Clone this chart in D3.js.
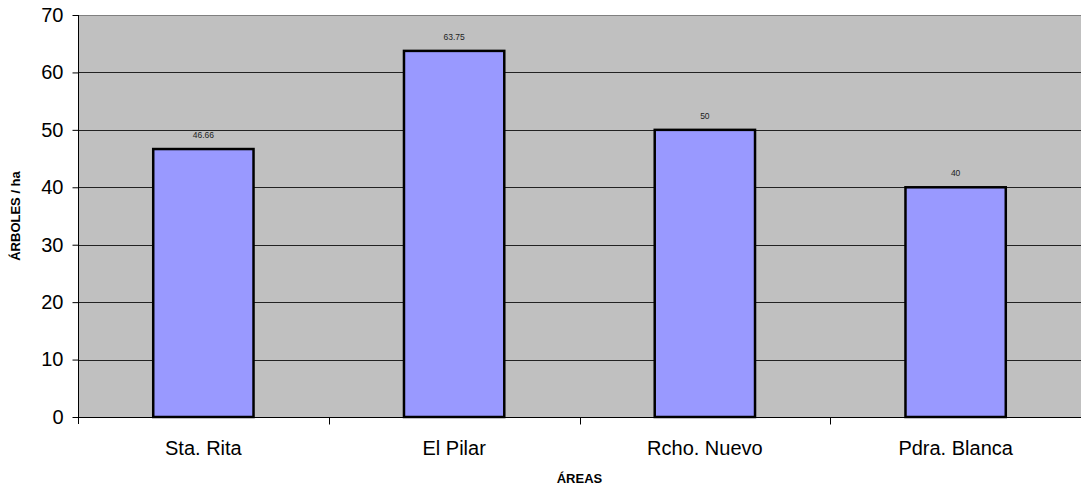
<!DOCTYPE html>
<html>
<head>
<meta charset="utf-8">
<script src="https://cdn.jsdelivr.net/npm/d3@7/dist/d3.min.js"></script>
<style>
  html, body { margin: 0; padding: 0; background: #fff; }
  svg { display: block; font-family: Arial, "Liberation Sans", sans-serif; }
</style>
</head>
<body>
<svg id="chart" width="1081" height="487"></svg>
<script>
// Tree density per area
const categories = ["Sta. Rita", "El Pilar", "Rcho. Nuevo", "Pdra. Blanca"];
const values = [46.66, 63.75, 50, 40];
const valueLabels = ["46.66", "63.75", "50", "40"];
const yTicks = [0, 10, 20, 30, 40, 50, 60, 70];

const svg = d3.select("#chart");
const plot = { left: 78, right: 1081, top: 15, bottom: 417 };

const x = d3.scaleBand()
  .domain(categories)
  .range([plot.left, plot.right])
  .paddingInner(0.6)
  .paddingOuter(0.3);

const y = d3.scaleLinear()
  .domain([0, 70])
  .range([plot.bottom, plot.top]);

// plot background
svg.append("rect")
  .attr("x", plot.left).attr("y", plot.top)
  .attr("width", plot.right - plot.left)
  .attr("height", plot.bottom - plot.top)
  .attr("fill", "#c0c0c0");

// horizontal gridlines
svg.append("g")
  .selectAll("line")
  .data(yTicks.filter(d => d > 0))
  .join("line")
  .attr("x1", plot.left).attr("x2", plot.right)
  .attr("y1", d => Math.round(y(d)) + 0.5)
  .attr("y2", d => Math.round(y(d)) + 0.5)
  .attr("stroke", d => d === 70 ? "#808080" : "#222")
  .attr("stroke-width", 1);

// bars
svg.append("g")
  .selectAll("rect")
  .data(values)
  .join("rect")
  .attr("x", (d, i) => x(categories[i]))
  .attr("y", d => y(d))
  .attr("width", x.bandwidth())
  .attr("height", d => y(0) - y(d))
  .attr("fill", "#9999ff")
  .attr("stroke", "#000")
  .attr("stroke-width", 2.5);

// value labels
svg.append("g")
  .selectAll("text")
  .data(values)
  .join("text")
  .attr("x", (d, i) => x(categories[i]) + x.bandwidth() / 2)
  .attr("y", d => y(d) - 11)
  .attr("text-anchor", "middle")
  .attr("font-size", 8.5)
  .attr("fill", "#222")
  .text((d, i) => valueLabels[i]);

// y axis
const yAxis = d3.axisLeft(y)
  .tickValues(yTicks)
  .tickSize(6)
  .tickPadding(9)
  .tickFormat(d3.format("d"));

const gy = svg.append("g")
  .attr("transform", `translate(${plot.left + 0.5},0)`)
  .call(yAxis);
gy.select(".domain").attr("stroke", "#000").attr("d", `M0,${plot.top}V${plot.bottom + 7}`);
gy.selectAll(".tick line").attr("stroke", "#000");
gy.selectAll(".tick text")
  .attr("font-size", 20)
  .attr("font-family", "Arial, 'Liberation Sans', sans-serif")
  .attr("fill", "#000");

// x axis
const xAxis = d3.axisBottom(x).tickSize(0).tickPadding(0);
const gx = svg.append("g")
  .attr("transform", `translate(0,${plot.bottom + 0.5})`)
  .call(xAxis);
gx.select(".domain").attr("stroke", "#000").attr("d", `M${plot.left},0H${plot.right}`);
gx.selectAll(".tick text")
  .attr("y", 37)
  .attr("dy", 0)
  .attr("font-size", 20)
  .attr("font-family", "Arial, 'Liberation Sans', sans-serif")
  .attr("fill", "#000");

// tick marks at the boundaries between categories
const boundaries = categories.slice(1).map(c => x(c) - x.step() * x.paddingInner() / 2);
gx.append("g")
  .selectAll("line")
  .data(boundaries)
  .join("line")
  .attr("x1", d => Math.round(d) + 0.5)
  .attr("x2", d => Math.round(d) + 0.5)
  .attr("y1", 0).attr("y2", 7)
  .attr("stroke", "#000");

// axis titles
svg.append("text")
  .attr("x", (plot.left + plot.right) / 2)
  .attr("y", 483)
  .attr("text-anchor", "middle")
  .attr("font-size", 13)
  .attr("font-weight", "bold")
  .text("ÁREAS");

svg.append("text")
  .attr("transform", `translate(20,${(plot.top + plot.bottom) / 2}) rotate(-90)`)
  .attr("text-anchor", "middle")
  .attr("font-size", 13)
  .attr("font-weight", "bold")
  .text("ÁRBOLES / ha");
</script>
</body>
</html>
